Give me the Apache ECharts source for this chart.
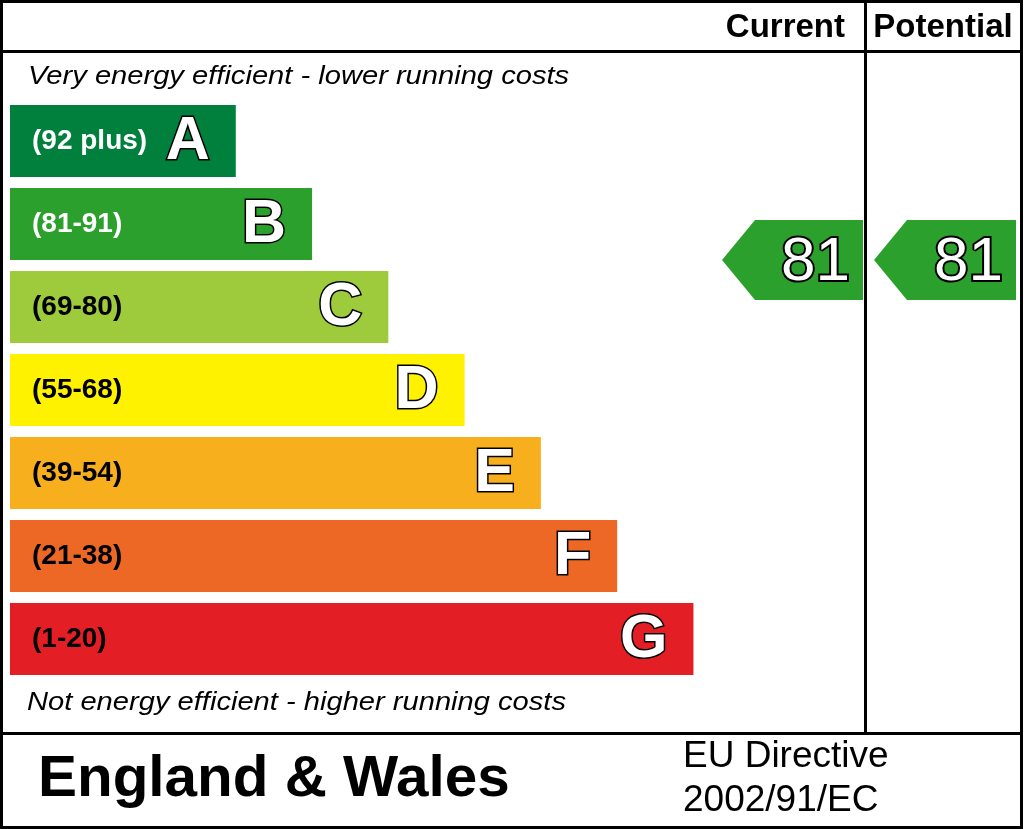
<!DOCTYPE html>
<html>
<head>
<meta charset="utf-8">
<script src="https://cdn.jsdelivr.net/npm/echarts@6/dist/echarts.min.js"></script>
<style>
  html, body { margin: 0; padding: 0; background: #fff; }
  #epcChart { width: 1024px; height: 829px; }
</style>
</head>
<body>
<div id="epcChart"></div>
<script>
  // bands of the rating scale, best first
  var bands = ['A', 'B', 'C', 'D', 'E', 'F', 'G']
  var bandRanges = ['(92 plus)', '(81-91)', '(69-80)', '(55-68)', '(39-54)', '(21-38)', '(1-20)']
  var bandMin = [92, 81, 69, 55, 39, 21, 1]
  var bandMax = [100, 91, 80, 68, 54, 38, 20]
  var barLengths = [3, 4, 5, 6, 7, 8, 9]
  var currentRating = 81
  var potentialRating = 81

  var bandColors = ['#007f3d', '#2ca02c', '#9dcb3c', '#fff200', '#f7af1d', '#ed6824', '#e31e24']
  var FONT = '"Liberation Sans", Arial, Helvetica, sans-serif'
  var BAR_H = 72

  function bandOf(rating) {
    for (var i = 0; i < bandMin.length; i++) {
      if (rating >= bandMin[i]) return i
    }
    return bandMin.length - 1
  }

  function renderArrow(params, api) {
    var band = api.value(1)
    var rating = api.value(2)
    var cs = params.coordSys
    var center = api.coord([0, band])
    // place the arrow along the bar according to the score inside the band
    var frac = (bandMax[band] + 1 - rating) / (bandMax[band] + 1 - bandMin[band])
    var cy = center[1] - BAR_H / 2 + frac * BAR_H
    var h = 80, tip = 33
    var left = cs.x, right = cs.x + cs.width
    return {
      type: 'group',
      children: [{
        type: 'polygon',
        shape: {
          points: [[left, cy], [left + tip, cy - h / 2], [right, cy - h / 2], [right, cy + h / 2], [left + tip, cy + h / 2]]
        },
        style: { fill: bandColors[band] }
      }, {
        type: 'text',
        z2: 10,
        style: {
          text: String(rating),
          x: right - 13,
          y: cy + 3,
          align: 'right',
          verticalAlign: 'middle',
          fontSize: 62,
          fontFamily: FONT,
          fill: '#fff',
          stroke: '#000',
          lineWidth: 4,
          strokeFirst: true
        }
      }]
    }
  }

  function label(text, x, y, font, extra) {
    var el = {
      type: 'text',
      x: x,
      y: y,
      style: { text: text, x: 0, y: 0, verticalAlign: 'middle', font: font, fill: '#000' }
    }
    for (var k in extra) {
      if (k === 'align') el.style.align = extra[k]
      else el[k] = extra[k]
    }
    return el
  }

  var gridTop = 99.5, gridHeight = 581

  var chart = echarts.init(document.getElementById('epcChart'), null, { renderer: 'canvas' })
  var option = {
    animation: false,
    backgroundColor: '#fff',
    grid: [
      { left: 10, top: gridTop, width: 836, height: gridHeight },
      { left: 722, top: gridTop, width: 141, height: gridHeight },
      { left: 874, top: gridTop, width: 142, height: gridHeight }
    ],
    xAxis: [
      { gridIndex: 0, type: 'value', min: 0.04, max: 11, show: false },
      { gridIndex: 1, type: 'value', min: 0, max: 1, show: false },
      { gridIndex: 2, type: 'value', min: 0, max: 1, show: false }
    ],
    yAxis: [
      { gridIndex: 0, type: 'category', data: bands, inverse: true, show: false },
      { gridIndex: 1, type: 'category', data: bands, inverse: true, show: false },
      { gridIndex: 2, type: 'category', data: bands, inverse: true, show: false }
    ],
    series: [{
      name: 'bands',
      type: 'bar',
      xAxisIndex: 0,
      yAxisIndex: 0,
      barWidth: BAR_H,
      data: barLengths.map(function (v, i) {
        return {
          value: v,
          itemStyle: { color: bandColors[i] },
          label: { color: i < 2 ? '#fff' : '#000' }
        }
      }),
      label: {
        show: true,
        position: 'insideLeft',
        distance: 22,
        fontSize: 28,
        fontWeight: 'bold',
        fontFamily: FONT,
        formatter: function (p) { return bandRanges[p.dataIndex] }
      }
    }, {
      name: 'letters',
      type: 'bar',
      xAxisIndex: 0,
      yAxisIndex: 0,
      barWidth: BAR_H,
      barGap: '-100%',
      z: 3,
      itemStyle: { color: 'rgba(0,0,0,0)' },
      data: barLengths,
      label: {
        show: true,
        position: 'insideRight',
        distance: 26,
        offset: [0, 1],
        fontSize: 61,
        fontWeight: 'bold',
        fontFamily: FONT,
        color: '#fff',
        textBorderColor: '#000',
        textBorderWidth: 3,
        formatter: function (p) { return bands[p.dataIndex] }
      }
    }, {
      name: 'Current',
      type: 'custom',
      xAxisIndex: 1,
      yAxisIndex: 1,
      encode: { x: 0, y: 1 },
      renderItem: renderArrow,
      data: [[0, bandOf(currentRating), currentRating]]
    }, {
      name: 'Potential',
      type: 'custom',
      xAxisIndex: 2,
      yAxisIndex: 2,
      encode: { x: 0, y: 1 },
      renderItem: renderArrow,
      data: [[0, bandOf(potentialRating), potentialRating]]
    }],
    graphic: [
      // frame
      { type: 'rect', shape: { x: 1.5, y: 1.5, width: 1020, height: 826 }, style: { fill: null, stroke: '#000', lineWidth: 3 } },
      { type: 'line', shape: { x1: 0, y1: 51.5, x2: 1023, y2: 51.5 }, style: { stroke: '#000', lineWidth: 3 } },
      { type: 'line', shape: { x1: 865.5, y1: 0, x2: 865.5, y2: 733 }, style: { stroke: '#000', lineWidth: 3 } },
      { type: 'line', shape: { x1: 0, y1: 733.5, x2: 1023, y2: 733.5 }, style: { stroke: '#000', lineWidth: 3 } },
      // texts
      label('Current', 845, 28, 'bold 33px ' + FONT, { align: 'right' }),
      label('Potential', 943, 28, 'bold 33px ' + FONT, { align: 'center' }),
      label('Very energy efficient - lower running costs', 28, 77, 'italic 26px ' + FONT, { scaleX: 1.12 }),
      label('Not energy efficient - higher running costs', 27, 703, 'italic 26px ' + FONT, { scaleX: 1.12 }),
      label('England & Wales', 38, 780, 'bold 57px ' + FONT, { scaleX: 1.025 }),
      label('EU Directive', 683, 757, '37px ' + FONT, {}),
      label('2002/91/EC', 683, 801, '37px ' + FONT, {})
    ]
  }
  chart.setOption(option)
</script>
</body>
</html>
